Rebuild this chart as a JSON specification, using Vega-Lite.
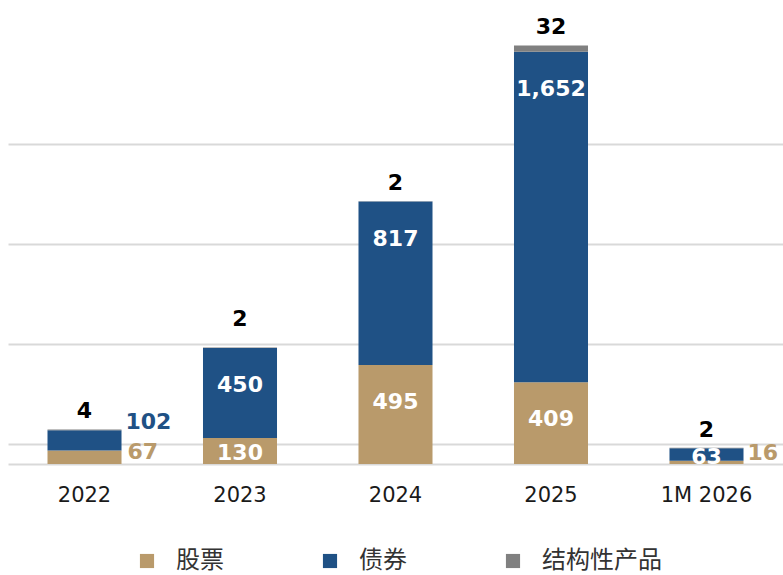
{
  "$schema": "https://vega.github.io/schema/vega-lite/v6.json",
  "width": 775,
  "height": 460,
  "autosize": {"type": "none"},
  "padding": {"left": 8, "right": 0, "top": 4, "bottom": 111},
  "background": "white",
  "config": {"view": {"stroke": null}},
  "data": {"values": [
    {"year": "2022", "type": "股票", "value": 67},
    {"year": "2022", "type": "债券", "value": 102},
    {"year": "2022", "type": "结构性产品", "value": 4},
    {"year": "2023", "type": "股票", "value": 130},
    {"year": "2023", "type": "债券", "value": 450},
    {"year": "2023", "type": "结构性产品", "value": 2},
    {"year": "2024", "type": "股票", "value": 495},
    {"year": "2024", "type": "债券", "value": 817},
    {"year": "2024", "type": "结构性产品", "value": 2},
    {"year": "2025", "type": "股票", "value": 409},
    {"year": "2025", "type": "债券", "value": 1652},
    {"year": "2025", "type": "结构性产品", "value": 32},
    {"year": "1M 2026", "type": "股票", "value": 16},
    {"year": "1M 2026", "type": "债券", "value": 63},
    {"year": "1M 2026", "type": "结构性产品", "value": 2}
  ]},
  "transform": [
    {"calculate": "indexof(['股票','债券','结构性产品'], datum.type)", "as": "rank"},
    {"stack": "value", "groupby": ["year"], "sort": [{"field": "rank", "order": "ascending"}], "as": ["y0", "y1"]},
    {"calculate": "(datum.y0 + datum.y1) / 2", "as": "ymid"},
    {"calculate": "format(datum.value, ',')", "as": "lbl"}
  ],
  "encoding": {
    "x": {
      "field": "year", "type": "nominal",
      "sort": ["2022", "2023", "2024", "2025", "1M 2026"],
      "scale": {"paddingInner": 0.524, "paddingOuter": 0.254},
      "axis": {
        "title": null, "ticks": false, "domain": true, "domainColor": "#D9D9D9", "domainWidth": 2,
        "labelAngle": 0, "labelFont": "DejaVu Sans", "labelFontSize": 21, "labelColor": "#1a1a1a",
        "labelPadding": 20, "labelBaseline": "top", "grid": false
      }
    }
  },
  "layer": [
    {
      "mark": {"type": "bar"},
      "encoding": {
        "y": {
          "field": "y0", "type": "quantitative",
          "scale": {"domain": [0, 2300], "nice": false},
          "axis": {
            "title": null, "labels": false, "ticks": false, "domain": false,
            "values": [100, 600, 1100, 1600], "grid": true, "gridColor": "#D9D9D9", "gridWidth": 2
          }
        },
        "y2": {"field": "y1"},
        "color": {
          "field": "type", "type": "nominal",
          "scale": {"domain": ["股票", "债券", "结构性产品"], "range": ["#B99A6B", "#1F5185", "#808080"]},
          "legend": {
            "title": null, "orient": "none", "direction": "horizontal",
            "legendX": 127, "legendY": 545, "padding": 0,
            "symbolType": "square", "symbolSize": 200, "symbolStrokeWidth": 0,
            "labelFont": "Noto Sans CJK SC", "labelFontSize": 24, "labelColor": "#333333",
            "labelOffset": 17, "columnPadding": 94, "labelLimit": 300
          }
        }
      }
    },
    {
      "transform": [{"filter": "datum.type == '结构性产品' && datum.year != '2023'"}],
      "mark": {"type": "text", "font": "DejaVu Sans", "fontWeight": "bold", "fontSize": 22, "color": "#000000", "baseline": "alphabetic", "dy": -11},
      "encoding": {
        "y": {"field": "y1", "type": "quantitative"},
        "text": {"field": "lbl"}
      }
    },
    {
      "transform": [{"filter": "datum.type == '结构性产品' && datum.year == '2023'"}],
      "mark": {"type": "text", "font": "DejaVu Sans", "fontWeight": "bold", "fontSize": 22, "color": "#000000", "baseline": "alphabetic", "dy": -22},
      "encoding": {
        "y": {"field": "y1", "type": "quantitative"},
        "text": {"field": "lbl"}
      }
    },
    {
      "transform": [{"filter": "datum.type != '结构性产品' && datum.value >= 300"}],
      "mark": {"type": "text", "font": "DejaVu Sans", "fontWeight": "bold", "fontSize": 22, "color": "#FFFFFF", "baseline": "middle", "dy": 37},
      "encoding": {
        "y": {"field": "y1", "type": "quantitative"},
        "text": {"field": "lbl"}
      }
    },
    {
      "transform": [{"filter": "(datum.year == '2023' && datum.type == '股票') || (datum.year == '1M 2026' && datum.type == '债券')"}],
      "mark": {"type": "text", "font": "DejaVu Sans", "fontWeight": "bold", "fontSize": 22, "color": "#FFFFFF", "baseline": "middle", "dy": 2},
      "encoding": {
        "y": {"field": "ymid", "type": "quantitative"},
        "text": {"field": "lbl"}
      }
    },
    {
      "transform": [{"filter": "(datum.year == '2022' && datum.type == '债券') || (datum.year == '1M 2026' && datum.type == '股票')"}],
      "mark": {"type": "text", "font": "DejaVu Sans", "fontWeight": "bold", "fontSize": 22, "align": "left", "baseline": "middle", "dx": 41, "dy": -8},
      "encoding": {
        "y": {"field": "y1", "type": "quantitative"},
        "text": {"field": "lbl"},
        "color": {"condition": {"test": "datum.type == '股票'", "value": "#B99A6B"}, "value": "#1F5185"}
      }
    },
    {
      "transform": [{"filter": "datum.year == '2022' && datum.type == '股票'"}],
      "mark": {"type": "text", "font": "DejaVu Sans", "fontWeight": "bold", "fontSize": 22, "align": "left", "baseline": "middle", "dx": 43, "dy": 1, "color": "#B99A6B"},
      "encoding": {
        "y": {"field": "y1", "type": "quantitative"},
        "text": {"field": "lbl"}
      }
    }
  ]
}
